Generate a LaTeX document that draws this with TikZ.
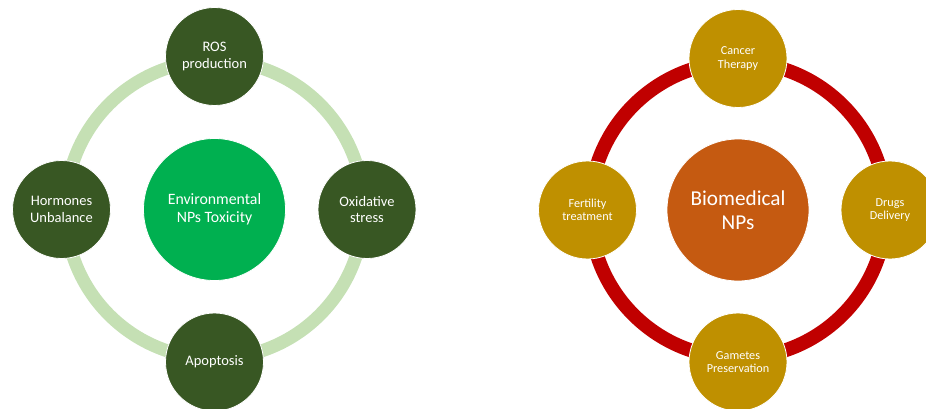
\documentclass[tikz,border=0pt]{standalone}
\usepackage{fontspec}
\setmainfont{Carlito}
\definecolor{dkgreen}{HTML}{385723}
\definecolor{midgreen}{HTML}{00B050}
\definecolor{ltgreen}{HTML}{C5E0B4}
\definecolor{gold}{HTML}{BF9000}
\definecolor{rust}{HTML}{C55A11}
\definecolor{ringred}{HTML}{C00000}
\begin{document}
\begin{tikzpicture}[x=1pt,y=-1pt,
  outer/.style={circle,draw=white,line width=0.8pt,minimum size=98pt,inner sep=0pt,align=center,text=white},
  greenout/.style={outer,fill=dkgreen,font=\fontsize{14.5}{16.5}\selectfont},
  goldout/.style={outer,fill=gold,font=\fontsize{12.2}{13.5}\selectfont},
  hub/.style={circle,draw=white,line width=0.8pt,minimum size=142pt,inner sep=0pt,align=center,text=white}]
\useasboundingbox (0,0) rectangle (926,409);
% left diagram
\coordinate (lc) at (214.5,209.5);
\draw[ltgreen,line width=13pt] (lc) circle[radius=149pt];
\node[hub,fill=midgreen,font=\fontsize{15.8}{17.5}\selectfont] (env) at (lc) {Environmental\\NPs Toxicity};
\node[greenout] (ros) at (214.5,56.5) {ROS\\production};
\node[greenout] (oxi) at (367,209.5) {Oxidative\\stress};
\node[greenout] (apo) at (214.5,362) {Apoptosis};
\node[greenout] (hor) at (61.5,209.5) {Hormones\\Unbalance};
% right diagram
\coordinate (rc) at (738,210);
\draw[ringred,line width=14pt] (rc) circle[radius=148pt];
\node[hub,fill=rust,font=\fontsize{21.2}{23.5}\selectfont] (bio) at (rc) {Biomedical\\NPs};
\node[goldout] (can) at (738,58.5) {Cancer\\Therapy};
\node[goldout] (dru) at (890,210) {Drugs\\Delivery};
\node[goldout] (gam) at (738,362) {Gametes\\Preservation};
\node[goldout] (fer) at (587.5,210) {Fertility\\treatment};
\end{tikzpicture}
\end{document}
